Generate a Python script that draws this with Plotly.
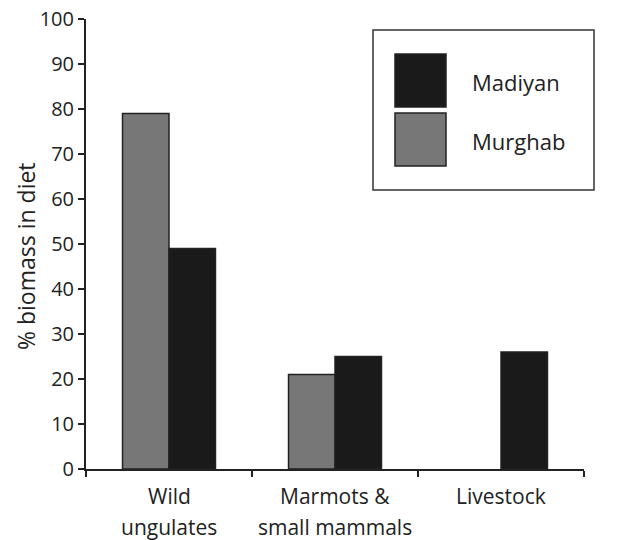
import plotly.graph_objects as go

categories = ["Wild ungulates", "Marmots & small mammals", "Livestock"]
tick_labels = ["Wild<br>ungulates", "Marmots &<br>small mammals", "Livestock"]
murghab = [79, 21, 0]
madiyan = [49, 25, 26]
series_names = ["Madiyan", "Murghab"]
y_title = "% biomass in diet"

FONT = "Open Sans"
C_MURGHAB = "#777777"
C_MADIYAN = "#1a1a1a"
EDGE = "#222222"

fig = go.Figure()
fig.add_trace(go.Bar(x=categories, y=murghab, name="Murghab",
                     marker=dict(color=C_MURGHAB,
                                 line=dict(color=EDGE, width=[1.5 if v else 0 for v in murghab]))))
fig.add_trace(go.Bar(x=categories, y=madiyan, name="Madiyan",
                     marker=dict(color=C_MADIYAN,
                                 line=dict(color=EDGE, width=[1.5 if v else 0 for v in madiyan]))))

fig.update_layout(
    width=622, height=540,
    margin=dict(l=86, r=38, t=19, b=71),
    paper_bgcolor="white", plot_bgcolor="white",
    barmode="group", bargap=0.44, bargroupgap=0,
    showlegend=False,
    font=dict(family=FONT, color="#222222", size=20),
)
fig.update_xaxes(
    type="category", range=[-0.5, 2.5], automargin=False,
    tickvals=categories, showticklabels=False,
    tickson="boundaries", ticks="outside", ticklen=6, tickwidth=2, tickcolor="#222",
    showline=True, linecolor="#222", linewidth=2, showgrid=False,
)
fig.update_yaxes(
    range=[0, 100], dtick=10, automargin=False, ticklabeloverflow="allow",
    ticks="outside", ticklen=6, tickwidth=2, tickcolor="#222",
    showline=True, linecolor="#222", linewidth=2, showgrid=False, zeroline=False,
    tickfont=dict(size=20),
)

# positions given in page pixels
def px_x(p):
    return (p - 86) / 498

def px_y(p):
    return 1 - (p - 19) / 450

# y-axis title
fig.add_annotation(xref="paper", yref="paper", x=px_x(26), y=px_y(256),
                   text=y_title, textangle=-90, showarrow=False,
                   xanchor="center", yanchor="middle",
                   font=dict(size=23, family=FONT, color="#222"))

# category labels, one annotation per line for wider line spacing
for cat, lab in zip(categories, tick_labels):
    for j, line in enumerate(lab.split("<br>")):
        fig.add_annotation(xref="x", yref="paper", x=cat, y=px_y(496 + 31 * j),
                           text=line, showarrow=False, xanchor="center", yanchor="middle",
                           font=dict(size=21, family=FONT, color="#222"))

# Custom legend (box with large swatches)
fig.add_shape(type="rect", xref="paper", yref="paper",
              x0=px_x(373), x1=px_x(594), y0=px_y(190), y1=px_y(30),
              line=dict(color="#333", width=1.5), fillcolor="white")
for i, (name, col) in enumerate(zip(series_names, [C_MADIYAN, C_MURGHAB])):
    top = 54 + i * 59
    fig.add_shape(type="rect", xref="paper", yref="paper",
                  x0=px_x(395), x1=px_x(446), y0=px_y(top + 53), y1=px_y(top),
                  line=dict(color=EDGE, width=1.5), fillcolor=col)
    fig.add_annotation(xref="paper", yref="paper", x=px_x(470), y=px_y(top + 28),
                       text=name, showarrow=False, xanchor="left", yanchor="middle",
                       font=dict(size=22, family=FONT, color="#222"))

# remove the browser's default 8px body margin so the figure fills the window
fig.write_html("out.html", config={"displayModeBar": False},
               post_script="document.body.style.margin='0';")
